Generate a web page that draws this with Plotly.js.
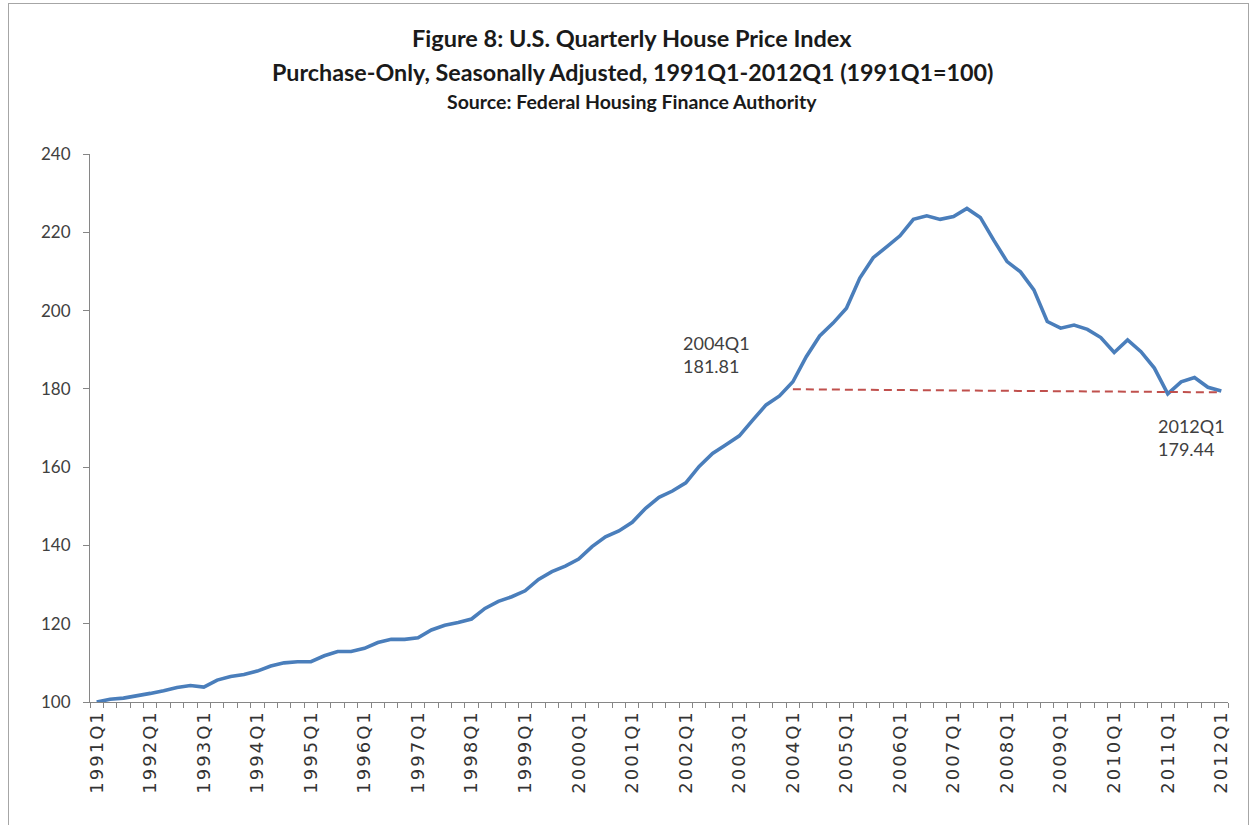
<!DOCTYPE html>
<html>
<head>
<meta charset="utf-8">
<script src="https://cdn.plot.ly/plotly-3.0.1.min.js"></script>
<style>
  html, body { margin: 0; padding: 0; background: #ffffff; }
  #frame { position: absolute; left: 8px; top: 3px; width: 1241px; height: 840px; border: 1px solid #a6a6a6; box-sizing: border-box; pointer-events: none; }
  #chart { position: absolute; left: 0; top: 0; width: 1253px; height: 825px; }
  #chart .xtick text { letter-spacing: 2px; }
</style>
</head>
<body>
<div id="chart"></div>
<div id="frame"></div>
<script>
// Quarter categories, 1991Q1 .. 2012Q1
const quarters = [
  "1991Q1","1991Q2","1991Q3","1991Q4",
  "1992Q1","1992Q2","1992Q3","1992Q4",
  "1993Q1","1993Q2","1993Q3","1993Q4",
  "1994Q1","1994Q2","1994Q3","1994Q4",
  "1995Q1","1995Q2","1995Q3","1995Q4",
  "1996Q1","1996Q2","1996Q3","1996Q4",
  "1997Q1","1997Q2","1997Q3","1997Q4",
  "1998Q1","1998Q2","1998Q3","1998Q4",
  "1999Q1","1999Q2","1999Q3","1999Q4",
  "2000Q1","2000Q2","2000Q3","2000Q4",
  "2001Q1","2001Q2","2001Q3","2001Q4",
  "2002Q1","2002Q2","2002Q3","2002Q4",
  "2003Q1","2003Q2","2003Q3","2003Q4",
  "2004Q1","2004Q2","2004Q3","2004Q4",
  "2005Q1","2005Q2","2005Q3","2005Q4",
  "2006Q1","2006Q2","2006Q3","2006Q4",
  "2007Q1","2007Q2","2007Q3","2007Q4",
  "2008Q1","2008Q2","2008Q3","2008Q4",
  "2009Q1","2009Q2","2009Q3","2009Q4",
  "2010Q1","2010Q2","2010Q3","2010Q4",
  "2011Q1","2011Q2","2011Q3","2011Q4",
  "2012Q1"
];

// House price index (1991Q1 = 100)
const hpi = [
  100.0, 100.7, 101.0, 101.5,
  102.2, 102.9, 103.7, 104.2,
  103.8, 105.6, 106.5, 107.0,
  107.9, 109.2, 110.0, 110.3,
  110.3, 111.8, 112.9, 112.9,
  113.7, 115.2, 116.0, 116.0,
  116.4, 118.4, 119.6, 120.3,
  121.2, 123.9, 125.7, 126.9,
  128.4, 131.3, 133.3, 134.7,
  136.5, 139.7, 142.2, 143.7,
  145.9, 149.5, 152.3, 153.9,
  156.0, 160.2, 163.5, 165.7,
  168.0, 172.0, 175.9, 178.2,
  181.81, 188.2, 193.5, 196.8,
  200.6, 208.3, 213.5, 216.3,
  219.1, 223.3, 224.2, 223.3,
  224.0, 226.1, 223.8, 218.0,
  212.5, 209.9, 205.3, 197.2,
  195.5, 196.3, 195.2, 193.1,
  189.3, 192.5, 189.5, 185.3,
  178.7, 181.8, 182.9, 180.4,
  179.44
];

// Dashed comparison line
const refX = ["2004Q1", "2012Q1"];
const refY = [179.9, 179.1];

// Labelled points
const labelQuarters = ["2004Q1", "2012Q1"];

// Tick labels (Q1 of each year)
const tickText = quarters.map(q => q.endsWith("Q1") ? q : "");

const yTicks = [100, 120, 140, 160, 180, 200, 220, 240];

const titleLines = [
  "Figure 8: U.S. Quarterly House Price Index",
  "Purchase-Only, Seasonally Adjusted, 1991Q1-2012Q1 (1991Q1=100)",
  "Source: Federal Housing Finance Authority"
];

const axisGray = "#868686";
const textColor = "#404040";

const traces = [
  {
    type: "scatter",
    mode: "lines",
    x: quarters,
    y: hpi,
    line: { color: "#4A7EBB", width: 3.6 },
    hoverinfo: "x+y",
    showlegend: false
  },
  {
    type: "scatter",
    mode: "lines",
    x: refX,
    y: refY,
    line: { color: "#C0504D", width: 2, dash: "8px,5px" },
    hoverinfo: "skip",
    showlegend: false
  }
];

function labelFor(q) {
  const i = quarters.indexOf(q);
  return { q: q, v: hpi[i] };
}
const a1 = labelFor(labelQuarters[0]);
const a2 = labelFor(labelQuarters[1]);

const annotations = [
  {
    xref: "x", yref: "y", x: a1.q, y: a1.v,
    text: a1.q + "<br>" + a1.v.toFixed(2),
    showarrow: false, xanchor: "left", yanchor: "middle", align: "left",
    xshift: -112, yshift: 27,
    font: { family: "Lato, 'Open Sans', sans-serif", size: 18, color: textColor }
  },
  {
    xref: "x", yref: "y", x: a2.q, y: a2.v,
    text: a2.q + "<br>" + a2.v.toFixed(2),
    showarrow: false, xanchor: "left", yanchor: "middle", align: "left",
    xshift: -65, yshift: -46,
    font: { family: "Lato, 'Open Sans', sans-serif", size: 18, color: textColor }
  },
  {
    xref: "paper", yref: "paper", x: 0.4763, y: 1.2117,
    text: "<b>" + titleLines[0] + "</b>", showarrow: false,
    xanchor: "center", yanchor: "middle",
    font: { family: "Lato, sans-serif", size: 23.5, color: "#1a1a1a" }
  },
  {
    xref: "paper", yref: "paper", x: 0.4763, y: 1.1496,
    text: "<b>" + titleLines[1] + "</b>", showarrow: false,
    xanchor: "center", yanchor: "middle",
    font: { family: "Lato, sans-serif", size: 23.3, color: "#1a1a1a" }
  },
  {
    xref: "paper", yref: "paper", x: 0.4763, y: 1.0967,
    text: "<b>" + titleLines[2] + "</b>", showarrow: false,
    xanchor: "center", yanchor: "middle",
    font: { family: "Lato, sans-serif", size: 19.5, color: "#1a1a1a" }
  }
];

const layout = {
  width: 1253,
  height: 825,
  paper_bgcolor: "#ffffff",
  plot_bgcolor: "#ffffff",
  margin: { l: 90, r: 25, t: 154, b: 123, pad: 0 },
  showlegend: false,
  xaxis: {
    type: "category",
    categoryorder: "array",
    categoryarray: quarters,
    range: [-0.5, quarters.length - 0.5],
    tickmode: "array",
    tickvals: quarters,
    ticktext: tickText,
    tickson: "boundaries",
    ticks: "outside",
    ticklen: 5,
    tickwidth: 1,
    tickcolor: axisGray,
    tickangle: -90,
    showline: true,
    linecolor: axisGray,
    linewidth: 1,
    showgrid: false,
    zeroline: false,
    tickfont: { family: "'DejaVu Sans', sans-serif", size: 18, color: "#333333" },
    fixedrange: true
  },
  yaxis: {
    range: [100, 240],
    tickmode: "array",
    tickvals: yTicks,
    ticks: "outside",
    ticklen: 6,
    tickwidth: 1,
    tickcolor: axisGray,
    showline: true,
    linecolor: axisGray,
    linewidth: 1,
    showgrid: false,
    zeroline: false,
    ticklabelstandoff: 9,
    tickfont: { family: "Lato, 'Open Sans', sans-serif", size: 17, color: textColor },
    fixedrange: true
  },
  annotations: annotations
};

Plotly.newPlot("chart", traces, layout, { displayModeBar: false, staticPlot: true });
</script>
</body>
</html>
